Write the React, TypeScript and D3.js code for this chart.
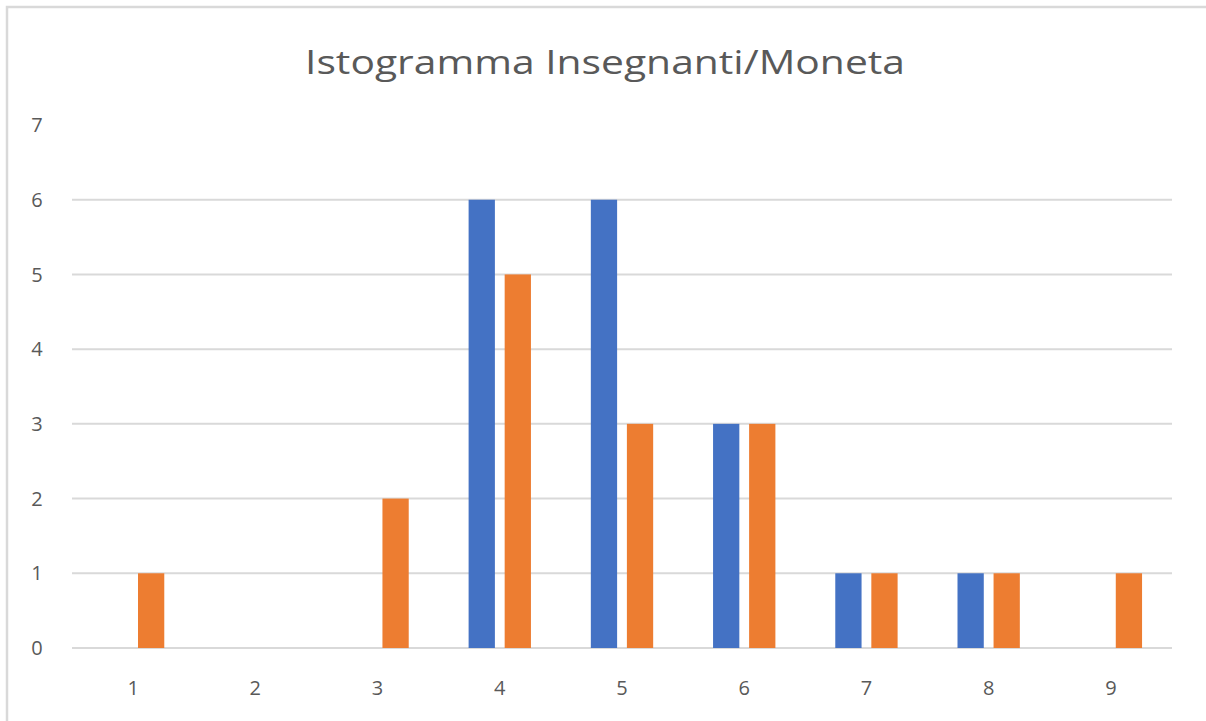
import React from "react";
import * as d3 from "d3";

const categories = ["1", "2", "3", "4", "5", "6", "7", "8", "9"];
const seriesInsegnanti = [0, 0, 0, 6, 6, 3, 1, 1, 0];
const seriesMoneta = [1, 0, 2, 5, 3, 3, 1, 1, 1];
const yTicks = [0, 1, 2, 3, 4, 5, 6, 7];
const seriesColors = ["#4472C4", "#ED7D31"];
const title = "Istogramma Insegnanti/Moneta";

export default function App() {
  const W = 1206, H = 721;
  const left = 72, right = 1172, top = 125, bottom = 648;
  const x = d3.scaleBand<string>().domain(categories).range([left, right]);
  const y = d3.scaleLinear().domain([0, 7]).range([bottom, top]);
  const bw = x.bandwidth();
  const barW = bw * 0.215;
  const gap = bw * 0.08;
  const series = [seriesInsegnanti, seriesMoneta];
  const font = "'Open Sans', sans-serif";
  return (
    <svg width={W} height={H} style={{ position: "absolute", left: 0, top: 0 }}>
      <rect x={0} y={0} width={W} height={H} fill="#fff" />
      <rect x={7} y={7} width={W + 20} height={H + 20} fill="none" stroke="#d9d9d9" strokeWidth={2.5} />
      <text x={605} y={74} textAnchor="middle" fontFamily={font} fontSize={32} fill="#595959" textLength={600} lengthAdjust="spacingAndGlyphs">{title}</text>
      {yTicks.filter(t => t < 7).map(t => (
        <line key={t} x1={left} x2={right} y1={y(t)} y2={y(t)} stroke="#d9d9d9" strokeWidth={2} />
      ))}
      {yTicks.map(t => (
        <text key={t} x={37} y={y(t)} dy="0.36em" textAnchor="middle" fontFamily={font} fontSize={20} fill="#595959">{t}</text>
      ))}
      {categories.map(c => (
        <text key={c} x={(x(c) as number) + bw / 2} y={688} dy="0.36em" textAnchor="middle" fontFamily={font} fontSize={20} fill="#595959">{c}</text>
      ))}
      {series.map((s, si) =>
        s.map((v, i) => {
          const cx = (x(categories[i]) as number) + bw / 2;
          const bx = si === 0 ? cx - gap / 2 - barW : cx + gap / 2;
          return v > 0 ? (
            <rect key={si + "-" + i} x={bx} y={y(v)} width={barW} height={y(0) - y(v)} fill={seriesColors[si]} />
          ) : null;
        })
      )}
    </svg>
  );
}
